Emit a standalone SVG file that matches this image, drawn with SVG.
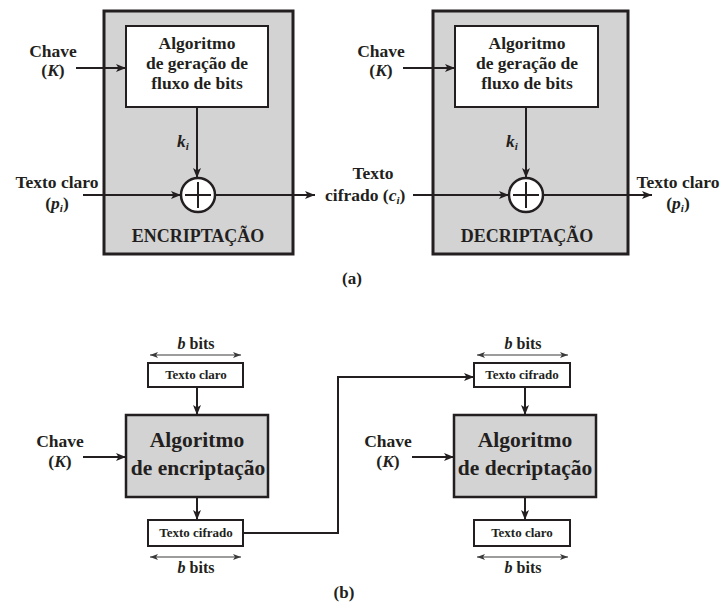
<svg xmlns="http://www.w3.org/2000/svg" width="722" height="605" viewBox="0 0 722 605">
  <defs>
    <marker id="ah" viewBox="0 0 10 8" refX="10" refY="4" markerWidth="10" markerHeight="8" markerUnits="userSpaceOnUse" orient="auto">
      <path d="M0,0 L10,4 L0,8 L2.5,4 Z" fill="#231f20"/>
    </marker>
    <marker id="sh" viewBox="0 0 8 6" refX="8" refY="3" markerWidth="8" markerHeight="6" markerUnits="userSpaceOnUse" orient="auto-start-reverse">
      <path d="M0,0 L8,3 L0,6 L2,3 Z" fill="#3a3a3a"/>
    </marker>
  </defs>
  <style>
    text { font-family: "Liberation Serif", "Times New Roman", serif; font-weight: bold; fill: #231f20; }
    .lbl { font-size: 17.5px; }
    .mid { text-anchor: middle; }
    .cap { font-size: 18px; }
    .big { font-size: 21.5px; }
    .sm { font-size: 13px; }
    .bb { font-size: 16px; }
    .fig { font-size: 17px; }
    .it { font-style: italic; }
    .sub { font-size: 11px; font-style: italic; }
    .panel { fill: #d3d3d3; stroke: #231f20; stroke-width: 3; }
    .white { fill: #ffffff; stroke: #231f20; stroke-width: 2; }
    .gray { fill: #d3d3d3; stroke: #231f20; stroke-width: 2.5; }
    .wire { fill: none; stroke: #231f20; stroke-width: 2; }
    .thin { fill: none; stroke: #3a3a3a; stroke-width: 1.2; }
    .xor { fill: #ffffff; stroke: #231f20; stroke-width: 2.5; }
  </style>

  <!-- (a) stream cipher: encryption panel -->
  <g id="enc-panel">
    <rect class="panel" x="104" y="11" width="189" height="243"/>
    <text class="cap mid" x="198" y="242">ENCRIPTAÇÃO</text>
  </g>
  <g id="enc-keygen">
    <rect class="white" x="126" y="26" width="142" height="81"/>
    <text class="lbl mid" x="197" y="49">Algoritmo</text>
    <text class="lbl mid" x="197" y="69">de geração de</text>
    <text class="lbl mid" x="197" y="89">fluxo de bits</text>
  </g>
  <g id="enc-xor">
    <circle class="xor" cx="198" cy="195" r="17"/>
    <path class="wire" d="M198,182 V208 M185,195 H211"/>
  </g>
  <g id="enc-key">
    <text class="lbl mid" x="53" y="57">Chave</text>
    <text class="lbl mid" x="53" y="76">(<tspan class="it">K</tspan>)</text>
  </g>
  <g id="enc-plain">
    <text class="lbl mid" x="57" y="188">Texto claro</text>
    <text class="lbl mid" x="57" y="209">(<tspan class="it">p</tspan><tspan class="sub" dy="3">i</tspan><tspan dy="-3">)</tspan></text>
  </g>
  <g id="enc-ki">
    <text class="lbl" x="177" y="147"><tspan class="it">k</tspan><tspan class="sub" dy="3">i</tspan></text>
  </g>

  <!-- (a) stream cipher: decryption panel -->
  <g id="dec-panel">
    <rect class="panel" x="433" y="11" width="195" height="243"/>
    <text class="cap mid" x="527" y="242">DECRIPTAÇÃO</text>
  </g>
  <g id="dec-keygen">
    <rect class="white" x="455" y="26" width="143" height="81"/>
    <text class="lbl mid" x="527" y="49">Algoritmo</text>
    <text class="lbl mid" x="527" y="69">de geração de</text>
    <text class="lbl mid" x="527" y="89">fluxo de bits</text>
  </g>
  <g id="dec-xor">
    <circle class="xor" cx="526" cy="195" r="17"/>
    <path class="wire" d="M526,182 V208 M513,195 H539"/>
  </g>
  <g id="dec-key">
    <text class="lbl mid" x="381" y="57">Chave</text>
    <text class="lbl mid" x="381" y="76">(<tspan class="it">K</tspan>)</text>
  </g>
  <g id="cipher-mid">
    <text class="lbl mid" x="373" y="179">Texto</text>
    <text class="lbl" x="325" y="201">cifrado (<tspan class="it">c</tspan><tspan class="sub" dy="3">i</tspan><tspan dy="-3">)</tspan></text>
  </g>
  <g id="dec-plain">
    <text class="lbl mid" x="678" y="188">Texto claro</text>
    <text class="lbl mid" x="678" y="209">(<tspan class="it">p</tspan><tspan class="sub" dy="3">i</tspan><tspan dy="-3">)</tspan></text>
  </g>
  <g id="dec-ki">
    <text class="lbl" x="506" y="147"><tspan class="it">k</tspan><tspan class="sub" dy="3">i</tspan></text>
  </g>

  <text id="cap-a" class="fig mid" x="352" y="284">(a)</text>

  <!-- (b) block cipher -->
  <g id="b-enc-in">
    <text class="bb mid" x="196" y="349"><tspan class="it">b</tspan> bits</text>
    <rect class="white" x="148" y="363" width="95" height="24"/>
    <text class="sm mid" x="196" y="379">Texto claro</text>
  </g>
  <g id="b-enc-alg">
    <rect class="gray" x="126" y="415" width="142" height="82"/>
    <text class="big mid" x="197" y="447">Algoritmo</text>
    <text class="big mid" x="198" y="475">de encriptação</text>
  </g>
  <g id="b-enc-out">
    <rect class="white" x="148" y="520" width="95" height="26"/>
    <text class="sm mid" x="196" y="537">Texto cifrado</text>
    <text class="bb mid" x="196" y="573"><tspan class="it">b</tspan> bits</text>
  </g>
  <g id="b-enc-key">
    <text class="lbl mid" x="60" y="447">Chave</text>
    <text class="lbl mid" x="60" y="467">(<tspan class="it">K</tspan>)</text>
  </g>

  <g id="b-dec-in">
    <text class="bb mid" x="523" y="349"><tspan class="it">b</tspan> bits</text>
    <rect class="white" x="474" y="363" width="96" height="24"/>
    <text class="sm mid" x="522" y="379">Texto cifrado</text>
  </g>
  <g id="b-dec-alg">
    <rect class="gray" x="454" y="415" width="142" height="82"/>
    <text class="big mid" x="525" y="447">Algoritmo</text>
    <text class="big mid" x="525" y="475">de decriptação</text>
  </g>
  <g id="b-dec-out">
    <rect class="white" x="474" y="520" width="96" height="26"/>
    <text class="sm mid" x="522" y="537">Texto claro</text>
    <text class="bb mid" x="523" y="573"><tspan class="it">b</tspan> bits</text>
  </g>
  <g id="b-dec-key">
    <text class="lbl mid" x="388" y="447">Chave</text>
    <text class="lbl mid" x="388" y="467">(<tspan class="it">K</tspan>)</text>
  </g>

  <text id="cap-b" class="fig mid" x="344" y="598">(b)</text>

  <!-- connectors -->
  <g id="connectors">
    <path class="wire" d="M76,68 H126" marker-end="url(#ah)"/>
    <path class="wire" d="M197,107 V178" marker-end="url(#ah)"/>
    <path class="wire" d="M83,195 H181" marker-end="url(#ah)"/>
    <path class="wire" d="M215,195 H315" marker-end="url(#ah)"/>

    <path class="wire" d="M403,68 H455" marker-end="url(#ah)"/>
    <path class="wire" d="M526,107 V178" marker-end="url(#ah)"/>
    <path class="wire" d="M413,195 H509" marker-end="url(#ah)"/>
    <path class="wire" d="M543,195 H652" marker-end="url(#ah)"/>

    <path class="thin" d="M150,355 H241" marker-start="url(#sh)" marker-end="url(#sh)"/>
    <path class="wire" d="M197,387 V415" marker-end="url(#ah)"/>
    <path class="wire" d="M83,457 H126" marker-end="url(#ah)"/>
    <path class="wire" d="M197,497 V520" marker-end="url(#ah)"/>
    <path class="thin" d="M150,557 H241" marker-start="url(#sh)" marker-end="url(#sh)"/>

    <path class="wire" d="M243,533 H338 V377 H474" marker-end="url(#ah)"/>

    <path class="thin" d="M477,355 H568" marker-start="url(#sh)" marker-end="url(#sh)"/>
    <path class="wire" d="M525,387 V415" marker-end="url(#ah)"/>
    <path class="wire" d="M412,457 H454" marker-end="url(#ah)"/>
    <path class="wire" d="M525,497 V520" marker-end="url(#ah)"/>
    <path class="thin" d="M477,557 H568" marker-start="url(#sh)" marker-end="url(#sh)"/>
  </g>
</svg>
